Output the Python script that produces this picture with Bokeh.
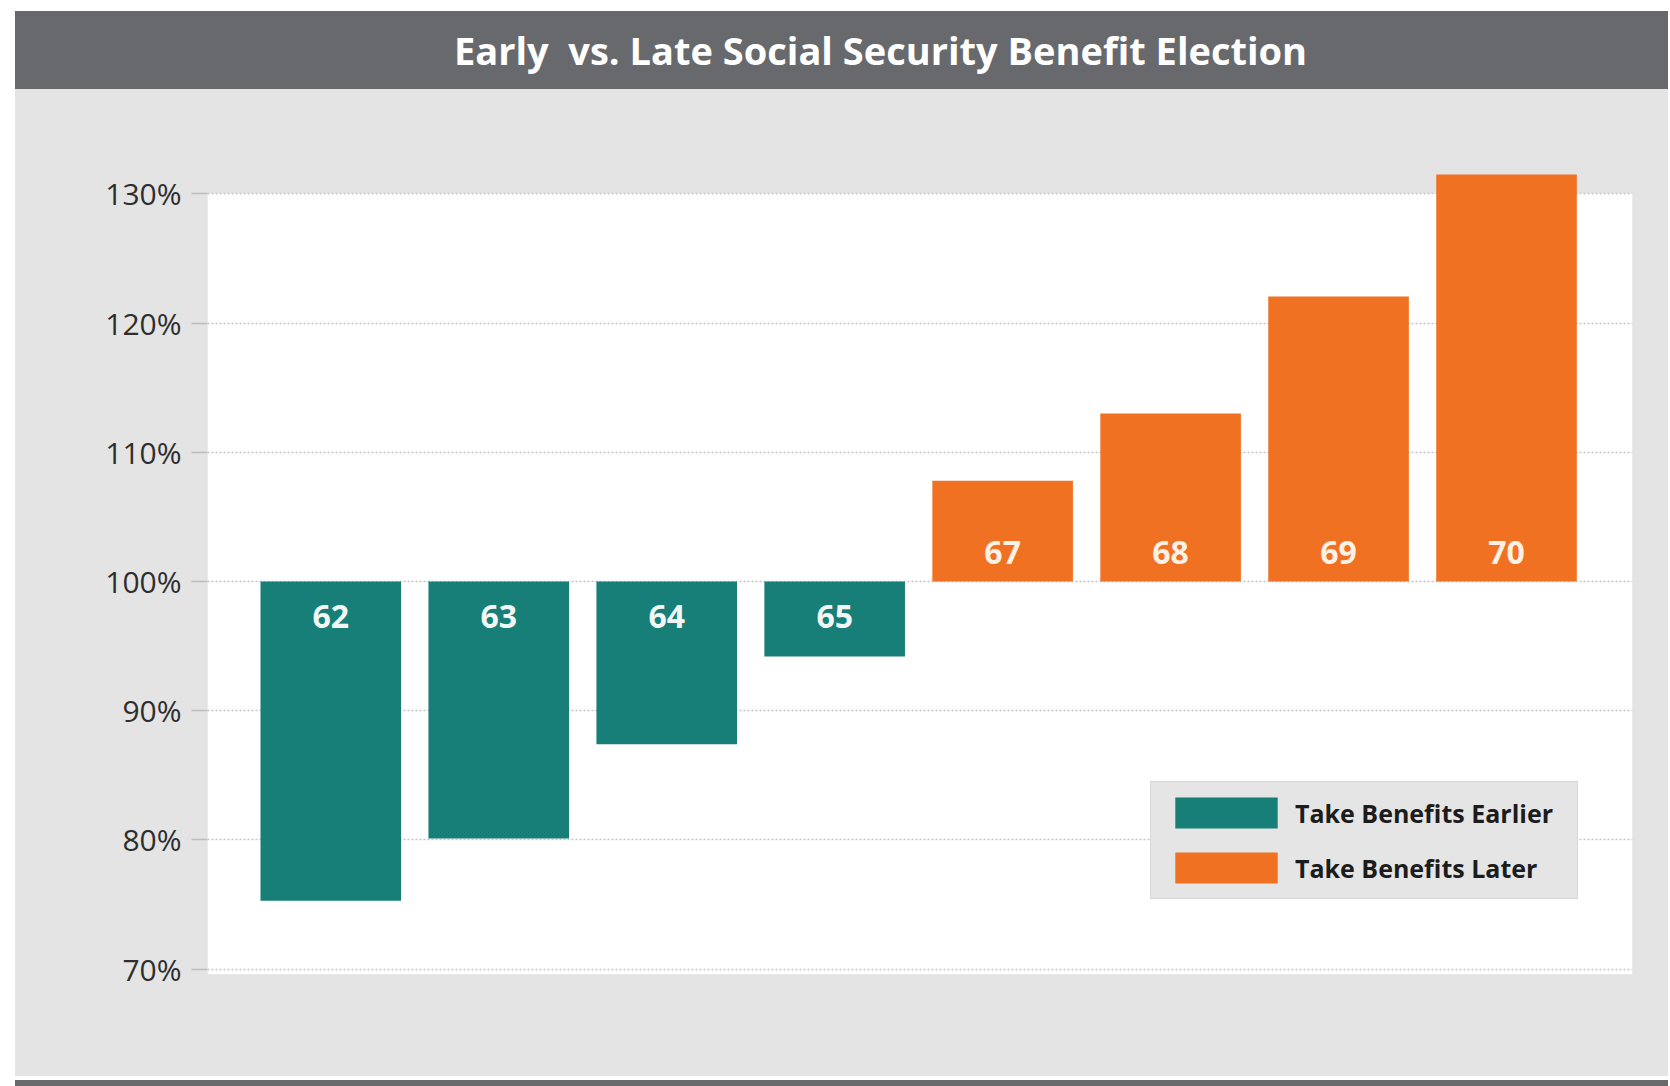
from bokeh.plotting import figure
from bokeh.models import (Div, Range1d, FixedTicker, PrintfTickFormatter,
                          BoxAnnotation, ColumnDataSource)
from bokeh.layouts import column
from bokeh.embed import file_html
from bokeh.resources import INLINE
from bokeh.core.properties import value

# ---------------- data ----------------
title_text = "Early&nbsp; vs. Late Social Security Benefit Election"
ages_early = ["62", "63", "64", "65"]
benefit_early = [75.3, 80.1, 87.4, 94.2]
ages_late = ["67", "68", "69", "70"]
benefit_late = [107.8, 113.0, 122.05, 131.5]
baseline = 100
y_ticks = [70, 80, 90, 100, 110, 120, 130]
legend_early = "Take Benefits Earlier"
legend_late = "Take Benefits Later"

# ---------------- styles ----------------
TEAL = "#177f78"
ORANGE = "#f07122"
PANEL = "#e4e4e4"
BAR_DARK = "#67696c"
FONT = "Open Sans"

W = 1653

n_early = len(ages_early)
src_early = ColumnDataSource(dict(
    x=list(range(n_early)), top=benefit_early,
    bottom=[baseline] * n_early, label=ages_early,
    base=[baseline] * n_early))
src_late = ColumnDataSource(dict(
    x=list(range(n_early, n_early + len(ages_late))), top=benefit_late,
    bottom=[baseline] * len(ages_late), label=ages_late,
    base=[baseline] * len(ages_late)))

p = figure(width=W, height=987, output_backend="svg", toolbar_location=None,
           x_range=Range1d(-0.734, 7.75), y_range=Range1d(67.57, 134.21),
           x_axis_location=None,
           min_border_left=192, min_border_right=W - 192 - 1425,
           min_border_top=50, min_border_bottom=76)
p.border_fill_color = None
p.border_fill_alpha = 0
p.background_fill_color = None
p.background_fill_alpha = 0
p.outline_line_color = None
p.styles = {"background-color": PANEL}

# white plotting area (under grid)
p.add_layout(BoxAnnotation(bottom=69.6, top=130.05, fill_color="white",
                           fill_alpha=1, line_color=None, level="image"))

p.xgrid.visible = False
p.ygrid.ticker = FixedTicker(ticks=y_ticks)
p.ygrid.grid_line_color = "#c4c4c4"
p.ygrid.grid_line_dash = "2 2"
p.ygrid.grid_line_width = 1.5

ax = p.yaxis[0]
ax.ticker = FixedTicker(ticks=y_ticks)
ax.formatter = PrintfTickFormatter(format="%d%%")
ax.axis_line_color = None
ax.major_tick_out = 16
ax.major_tick_in = 0
ax.major_tick_line_color = "#bdbdbd"
ax.major_tick_line_width = 1.5
ax.minor_tick_line_color = None
ax.major_label_standoff = 10
ax.major_label_text_font = FONT
ax.major_label_text_font_size = "30px"
ax.major_label_text_color = "#2e2e2e"

bw = 0.837
p.vbar(x="x", top="top", bottom="bottom", width=bw, source=src_early,
       fill_color=TEAL, line_color=None, legend_label=legend_early)
p.vbar(x="x", top="top", bottom="bottom", width=bw, source=src_late,
       fill_color=ORANGE, line_color=None, legend_label=legend_late)

p.text(x="x", y="base", text="label", source=src_early,
       text_font=value(FONT), text_font_style="bold", text_font_size="32px",
       text_color="#f2f7f6", text_align="center", text_baseline="middle",
       y_offset=35)
p.text(x="x", y="base", text="label", source=src_late,
       text_font=value(FONT), text_font_style="bold", text_font_size="32px",
       text_color="#fdf1e6", text_align="center", text_baseline="middle",
       y_offset=-29)

lg = p.legend[0]
lg.location = (943, 101)
lg.glyph_width = 128
lg.glyph_height = 39
lg.spacing = 16
lg.padding = 11
lg.margin = 0
lg.label_standoff = 5
lg.label_width = 271
lg.label_text_font = FONT
lg.label_text_font_style = "bold"
lg.label_text_font_size = "25px"
lg.label_text_color = "#1c1c1c"
lg.border_line_color = "#cccccc"
lg.border_line_width = 1.5
lg.background_fill_color = "#e5e5e5"
lg.background_fill_alpha = 1

title_div = Div(
    text=('<div style="width:%dpx;height:78px;background:%s;color:#ffffff;'
          'font-family:\'Open Sans\';font-weight:bold;font-size:38px;'
          'line-height:78px;text-align:center;padding-left:78px;'
          'box-sizing:border-box;white-space:nowrap;">%s</div>')
    % (W, BAR_DARK, title_text),
    width=W, height=78, margin=0)
bottom_div = Div(text='<div style="width:%dpx;height:8px;background:%s;"></div>'
                 % (W, BAR_DARK), width=W, height=8, margin=0)
p.margin = 0

layout = column(title_div, p, bottom_div, margin=(11, 0, 0, 15), spacing=0)

open("out.html", "w").write(file_html(layout, INLINE))
